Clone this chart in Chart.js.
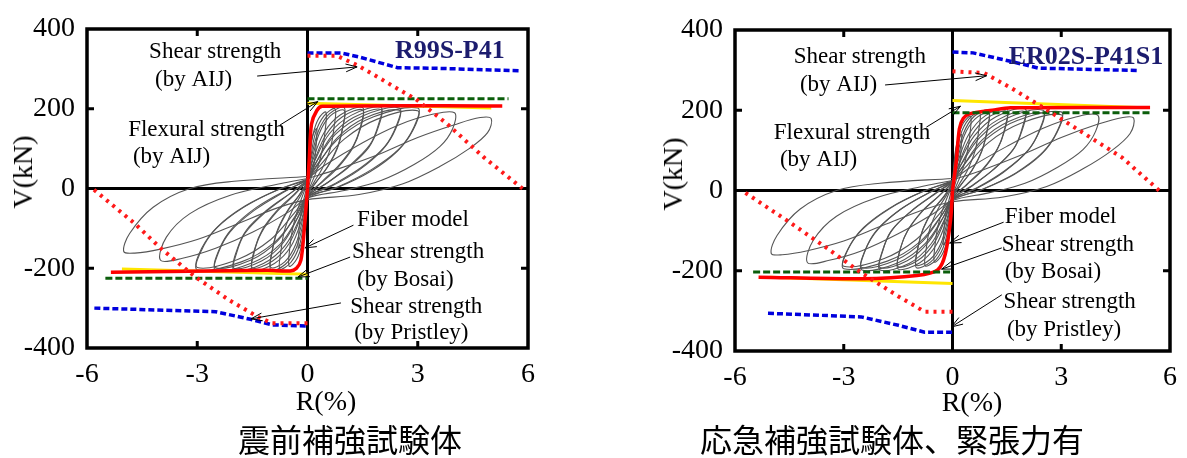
<!DOCTYPE html>
<html>
<head>
<meta charset="utf-8">
<script src="https://cdn.jsdelivr.net/npm/chart.js@4.4.1/dist/chart.umd.min.js"></script>
<style>
  body { margin: 0; background: #fff; width: 1187px; height: 458px; position: relative; overflow: hidden; }
  canvas { position: absolute; top: 0; }
  .t { position: absolute; font-family: "Liberation Serif", serif; font-size: 28px; line-height: 32px; color: #000; white-space: nowrap; transform: translate(-50%, -50%); }
  .rot { transform: translate(-50%, -50%) rotate(-90deg); }
  .cap { position: absolute; font-family: "Noto Sans CJK JP", sans-serif; font-size: 32px; line-height: 40px; color: #000; white-space: nowrap; transform: translate(-50%, -50%); }
</style>
</head>
<body>
<canvas id="left" width="600" height="458" style="left:0"></canvas>
<canvas id="right" width="587" height="458" style="left:600px"></canvas>
<div class="t rot" style="left:23px;top:172px">V(kN)</div>
<div class="t rot" style="left:673px;top:174px">V(kN)</div>
<div class="t" style="left:326px;top:401px">R(%)</div>
<div class="t" style="left:972px;top:402px">R(%)</div>
<div class="cap" style="left:350px;top:438px">震前補強試験体</div>
<div class="cap" style="left:892px;top:438px">応急補強試験体、緊張力有</div>
<script>
// axis ticks
const xTicks = [-6, -3, 0, 3, 6];
const yTicks = [-400, -200, 0, 200, 400];

// ---- left specimen (R99S-P41), pairs of R(%), V(kN) ----
const leftLoops = [
  [0,10, 0.03,60, 0.08,105, 0.15,135, 0.25,150, 0.24,115, 0.2,75, 0.12,35, 0,-10, -0.03,-60, -0.08,-105, -0.15,-135, -0.25,-150, -0.24,-115, -0.2,-75, -0.12,-35, 0,10],
  [0,15, 0.05,70, 0.15,135, 0.3,175, 0.5,192, 0.48,145, 0.4,95, 0.25,45, 0,-15, -0.05,-70, -0.15,-138, -0.3,-178, -0.5,-195, -0.48,-148, -0.4,-98, -0.25,-48, 0,15],
  [0,17, 0.08,73, 0.22,140, 0.45,182, 0.75,200, 0.72,152, 0.62,100, 0.4,50, 0.18,16, 0,-17, -0.08,-75, -0.22,-143, -0.45,-185, -0.75,-202, -0.72,-155, -0.62,-103, -0.4,-52, -0.18,-17, 0,17],
  [0,18, 0.1,75, 0.3,145, 0.6,188, 1.0,203, 0.96,155, 0.82,105, 0.55,55, 0.25,18, 0,-18, -0.1,-78, -0.3,-148, -0.6,-190, -1.0,-205, -0.96,-158, -0.82,-108, -0.55,-58, -0.25,-20, 0,18],
  [0,16, 0.12,70, 0.32,138, 0.62,182, 1.0,196, 0.95,148, 0.8,98, 0.52,50, 0.22,14, 0,-16, -0.12,-72, -0.32,-140, -0.62,-184, -1.0,-198, -0.95,-150, -0.8,-100, -0.52,-52, -0.22,-16, 0,16],
  [0,20, 0.15,72, 0.45,140, 0.9,185, 1.5,203, 1.45,158, 1.25,108, 0.85,58, 0.4,18, 0,-20, -0.15,-75, -0.45,-145, -0.9,-188, -1.5,-205, -1.45,-160, -1.25,-110, -0.85,-60, -0.4,-20, 0,20],
  [0,18, 0.18,68, 0.5,134, 0.95,180, 1.5,197, 1.44,150, 1.22,100, 0.82,52, 0.38,14, 0,-18, -0.18,-70, -0.5,-138, -0.95,-182, -1.5,-199, -1.44,-152, -1.22,-102, -0.82,-54, -0.38,-16, 0,18],
  [0,20, 0.2,70, 0.6,138, 1.2,184, 2.0,204, 1.93,160, 1.7,110, 1.15,58, 0.55,15, 0,-20, -0.2,-72, -0.6,-142, -1.2,-188, -2.0,-206, -1.93,-162, -1.7,-112, -1.15,-60, -0.55,-18, 0,20],
  [0,19, 0.24,66, 0.66,132, 1.25,178, 2.0,198, 1.92,152, 1.66,102, 1.1,52, 0.5,12, 0,-19, -0.24,-68, -0.66,-136, -1.25,-182, -2.0,-200, -1.92,-154, -1.66,-104, -1.1,-54, -0.5,-14, 0,19],
  [0,22, 0.25,68, 0.75,135, 1.5,182, 2.5,202, 2.42,158, 2.1,105, 1.45,52, 0.7,10, 0,-22, -0.25,-70, -0.75,-140, -1.5,-186, -2.5,-205, -2.42,-160, -2.1,-108, -1.45,-55, -0.7,-12, 0,22],
  [0,20, 0.3,62, 0.82,128, 1.55,176, 2.5,196, 2.4,150, 2.05,98, 1.4,46, 0.66,6, 0,-20, -0.3,-64, -0.82,-132, -1.55,-180, -2.5,-199, -2.4,-152, -2.05,-100, -1.4,-48, -0.66,-8, 0,20],
  [0,22, 0.3,65, 0.9,130, 1.8,180, 3.0,202, 2.9,155, 2.5,100, 1.75,48, 0.85,5, 0,-24, -0.3,-68, -0.9,-135, -1.8,-184, -3.0,-204, -2.9,-158, -2.5,-102, -1.75,-48, -0.85,-5, 0,24],
  [0,21, 0.36,60, 1.0,124, 1.9,174, 3.0,195, 2.88,148, 2.45,94, 1.7,42, 0.8,2, 0,-21, -0.36,-62, -1.0,-128, -1.9,-178, -3.0,-198, -2.88,-150, -2.45,-96, -1.7,-44, -0.8,-3, 0,21],
  [0,24, 0.5,60, 1.5,115, 2.5,160, 3.4,186, 4.0,190, 3.95,150, 3.6,105, 2.9,60, 2.0,20, 1.0,-5, 0,-24, -0.5,-58, -1.5,-110, -2.5,-150, -3.4,-175, -4.0,-180, -3.84,-122, -3.2,-63, -2.1,-17, -0.75,12, 0,25],
  [0,25, 0.8,48, 2.0,88, 3.0,128, 4.0,160, 4.7,178, 5.0,175, 4.9,140, 4.4,100, 3.6,55, 2.6,12, 1.4,-15, 0,-28, -0.8,-48, -2.0,-92, -3.0,-128, -4.0,-152, -4.7,-162, -5.0,-158, -4.84,-113, -4.2,-47, -3.2,0, -2.0,18, 0,30]
];
const leftFiberPos = [0,0, 0.05,78, 0.11,162, 0.25,195, 0.4,206, 5.3,207];
const leftFiberNeg = [0,0, -0.09,-105, -0.18,-180, -0.3,-200, -0.47,-207, -1.1,-205, -5.35,-210];
const leftFlexPos = [0,214, 5.0,202];
const leftFlexNeg = [-5.05,-202, 0,-215];
const leftBosaiPos = [0,225, 5.47,225];
const leftBosaiNeg = [-5.5,-225, 0,-225];
const leftAijPos = [0,333, 0.8,333, 1.4,307, 2.4,253, 2.95,224, 3.8,162, 4.8,78, 5.85,0];
const leftAijNeg = [0,-338, -0.96,-338, -1.35,-322, -2.13,-280, -3.05,-222, -3.98,-151, -4.7,-88, -5.85,0];
const leftPriestleyPos = [0,340, 0.9,340, 1.4,330, 2.45,303, 3.7,301, 5.8,295];
const leftPriestleyNeg = [-5.8,-300, -2.5,-309, -1.55,-328, -0.96,-342, 0,-345];

// ---- right specimen (ER02S-P41S1) ----
const rightLoops = [
  [0,10, 0.03,55, 0.08,98, 0.15,126, 0.25,140, 0.24,108, 0.2,70, 0.12,32, 0,-10, -0.03,-55, -0.08,-95, -0.15,-122, -0.25,-135, -0.24,-104, -0.2,-68, -0.12,-32, 0,10],
  [0,15, 0.05,68, 0.15,130, 0.3,168, 0.5,185, 0.48,140, 0.4,92, 0.25,44, 0,-15, -0.05,-65, -0.15,-125, -0.3,-162, -0.5,-178, -0.48,-135, -0.4,-88, -0.25,-42, 0,15],
  [0,17, 0.08,72, 0.22,138, 0.45,178, 0.75,195, 0.72,148, 0.62,98, 0.4,48, 0.18,15, 0,-17, -0.08,-70, -0.22,-133, -0.45,-172, -0.75,-188, -0.72,-142, -0.62,-94, -0.4,-46, -0.18,-14, 0,17],
  [0,18, 0.1,74, 0.3,142, 0.6,185, 1.0,200, 0.96,152, 0.82,102, 0.55,52, 0.25,16, 0,-18, -0.1,-72, -0.3,-138, -0.6,-178, -1.0,-192, -0.96,-146, -0.82,-98, -0.55,-50, -0.25,-16, 0,18],
  [0,16, 0.12,68, 0.32,136, 0.62,178, 1.0,193, 0.95,146, 0.8,96, 0.52,48, 0.22,13, 0,-16, -0.12,-68, -0.32,-132, -0.62,-172, -1.0,-186, -0.95,-140, -0.8,-93, -0.52,-47, -0.22,-14, 0,16],
  [0,20, 0.15,72, 0.45,140, 0.9,186, 1.5,204, 1.45,158, 1.25,106, 0.85,55, 0.4,16, 0,-20, -0.15,-70, -0.45,-136, -0.9,-180, -1.5,-196, -1.45,-150, -1.25,-102, -0.85,-53, -0.4,-16, 0,20],
  [0,18, 0.18,68, 0.5,134, 0.95,180, 1.5,197, 1.44,150, 1.22,100, 0.82,50, 0.38,13, 0,-18, -0.18,-66, -0.5,-130, -0.95,-174, -1.5,-190, -1.44,-145, -1.22,-97, -0.82,-50, -0.38,-14, 0,18],
  [0,22, 0.2,70, 0.6,136, 1.2,184, 2.0,204, 1.93,158, 1.7,106, 1.15,54, 0.55,12, 0,-22, -0.2,-68, -0.6,-134, -1.2,-182, -2.0,-198, -1.93,-152, -1.7,-102, -1.15,-52, -0.55,-12, 0,22],
  [0,20, 0.24,66, 0.66,130, 1.25,176, 2.0,197, 1.92,150, 1.66,100, 1.1,50, 0.5,10, 0,-20, -0.24,-64, -0.66,-128, -1.25,-175, -2.0,-192, -1.92,-147, -1.66,-98, -1.1,-49, -0.5,-10, 0,20],
  [0,23, 0.25,66, 0.75,132, 1.5,180, 2.5,200, 2.42,155, 2.1,102, 1.45,50, 0.7,8, 0,-23, -0.25,-66, -0.75,-132, -1.5,-180, -2.5,-198, -2.42,-152, -2.1,-100, -1.45,-48, -0.7,-8, 0,23],
  [0,21, 0.3,62, 0.82,126, 1.55,172, 2.5,193, 2.4,148, 2.05,96, 1.4,45, 0.66,5, 0,-21, -0.3,-62, -0.82,-126, -1.55,-173, -2.5,-192, -2.4,-147, -2.05,-96, -1.4,-45, -0.66,-6, 0,21],
  [0,24, 0.3,62, 0.9,126, 1.8,175, 3.0,196, 2.9,150, 2.5,96, 1.75,44, 0.85,4, 0,-24, -0.3,-62, -0.9,-128, -1.8,-176, -3.0,-195, -2.9,-150, -2.5,-98, -1.75,-46, -0.85,-4, 0,24],
  [0,22, 0.36,58, 1.0,120, 1.9,168, 3.0,189, 2.88,144, 2.45,90, 1.7,40, 0.8,2, 0,-22, -0.36,-58, -1.0,-122, -1.9,-170, -3.0,-189, -2.88,-145, -2.45,-92, -1.7,-42, -0.8,-2, 0,22],
  [0,25, 0.5,58, 1.5,110, 2.5,155, 3.4,183, 4.0,188, 3.95,148, 3.6,102, 2.9,58, 2.0,18, 1.0,-6, 0,-25, -0.5,-56, -1.5,-108, -2.5,-150, -3.4,-174, -4.0,-180, -3.84,-124, -3.2,-64, -2.1,-18, -0.75,12, 0,25],
  [0,26, 0.8,50, 2.0,92, 3.0,132, 4.0,165, 4.7,182, 5.0,180, 4.9,142, 4.4,100, 3.6,54, 2.6,10, 1.4,-16, 0,-28, -0.8,-48, -2.0,-90, -3.0,-126, -4.0,-150, -4.7,-160, -5.0,-157, -4.84,-112, -4.2,-46, -3.2,0, -2.0,18, 0,30]
];
const rightFiberPos = [0,0, 0.1,69, 0.19,154, 0.3,180, 0.47,191, 1.1,200, 1.6,206, 5.45,207];
const rightFiberNeg = [0,0, -0.05,-70, -0.2,-159, -0.41,-198, -0.98,-212, -2.5,-220, -5.35,-216];
const rightFlexPos = [0,224, 5.1,207];
const rightFlexNeg = [-5.04,-216, 0,-232];
const rightBosaiPos = [0,194, 5.5,194];
const rightBosaiNeg = [-5.5,-203, 0,-203];
const rightAijPos = [0,297, 0.87,293, 1.7,251, 2.62,200, 3.65,141, 4.68,82, 5.7,0];
const rightAijNeg = [0,-302, -0.77,-302, -1.49,-264, -2.52,-205, -3.55,-138, -4.58,-74, -5.81,0];
const rightPriestleyPos = [0,345, 0.57,343, 1.6,322, 2.37,305, 5.15,299];
const rightPriestleyNeg = [-5.09,-306, -2.52,-315, -1.49,-336, -0.77,-353, 0,-353];

// pairs -> points
const pts = a => {
  const out = [];
  for (let i = 0; i < a.length; i += 2) out.push({x: a[i], y: a[i + 1]});
  return out;
};

function line(data, color, width, dash, tension) {
  return {
    data: pts(data), showLine: true, borderColor: color, borderWidth: width,
    borderDash: dash || [], tension: tension || 0, pointRadius: 0, fill: false
  };
}

function buildSets(s) {
  const sets = [
    line(s.aijPos, '#ff1a1a', 4, [3, 5]),
    line(s.aijNeg, '#ff1a1a', 4, [3, 5]),
    line(s.priPos, '#0000dd', 3.5, [6, 3]),
    line(s.priNeg, '#0000dd', 3.5, [6, 3]),
    line(s.bosPos, '#0b5e0b', 3, [7, 3]),
    line(s.bosNeg, '#0b5e0b', 3, [7, 3]),
    line(s.fibPos, '#ff0000', 3.5, null, 0.3),
    line(s.fibNeg, '#ff0000', 3.5, null, 0.3),
    line(s.flexPos, '#ffe600', 3),
    line(s.flexNeg, '#ffe600', 3)
  ];
  s.loops.forEach(l => sets.push(line(l, '#555555', 1.1, null, 0.35)));
  return sets;
}

// frame, inward ticks, zero lines
const framePlugin = {
  id: 'frame',
  beforeDatasetsDraw(chart) {
    const {ctx, chartArea: a, scales: {x, y}} = chart;
    ctx.save();
    ctx.strokeStyle = '#000';
    ctx.lineWidth = 3;
    ctx.beginPath();
    ctx.moveTo(x.getPixelForValue(0), a.top); ctx.lineTo(x.getPixelForValue(0), a.bottom);
    ctx.moveTo(a.left, y.getPixelForValue(0)); ctx.lineTo(a.right, y.getPixelForValue(0));
    ctx.stroke();
    ctx.restore();
  },
  afterDatasetsDraw(chart) {
    const {ctx, chartArea: a, scales: {x, y}} = chart;
    ctx.save();
    ctx.strokeStyle = '#000';
    ctx.lineWidth = 3;
    ctx.beginPath();
    x.ticks.forEach(t => {
      if (t.value === 0 || Math.abs(t.value) === 6) return;
      const px = x.getPixelForValue(t.value);
      ctx.moveTo(px, a.top); ctx.lineTo(px, a.top + 7);
      ctx.moveTo(px, a.bottom); ctx.lineTo(px, a.bottom - 7);
    });
    y.ticks.forEach(t => {
      if (t.value === 0 || Math.abs(t.value) === 400) return;
      const py = y.getPixelForValue(t.value);
      ctx.moveTo(a.left, py); ctx.lineTo(a.left + 7, py);
      ctx.moveTo(a.right, py); ctx.lineTo(a.right - 7, py);
    });
    ctx.stroke();
    ctx.lineWidth = 3.5;
    ctx.strokeRect(a.left, a.top, a.right - a.left, a.bottom - a.top);
    ctx.restore();
  }
};

// text labels and arrows, placed in data units
const notesPlugin = {
  id: 'notes',
  afterDraw(chart, args, opts) {
    const {ctx, scales: {x, y}} = chart;
    ctx.save();
    ctx.textBaseline = 'middle';
    ctx.textAlign = 'left';
    ctx.fillStyle = '#000';
    ctx.font = '23px "Liberation Serif"';
    opts.texts.forEach(([s, r, v]) => ctx.fillText(s, x.getPixelForValue(r), y.getPixelForValue(v)));
    ctx.strokeStyle = '#000';
    ctx.lineWidth = 1;
    opts.arrows.forEach(([r1, v1, r2, v2]) => {
      const x1 = x.getPixelForValue(r1), y1 = y.getPixelForValue(v1);
      const x2 = x.getPixelForValue(r2), y2 = y.getPixelForValue(v2);
      const ang = Math.atan2(y2 - y1, x2 - x1), h = 12;
      ctx.beginPath();
      ctx.moveTo(x1, y1); ctx.lineTo(x2, y2);
      ctx.moveTo(x2 - h * Math.cos(ang - 0.33), y2 - h * Math.sin(ang - 0.33));
      ctx.lineTo(x2, y2);
      ctx.lineTo(x2 - h * Math.cos(ang + 0.33), y2 - h * Math.sin(ang + 0.33));
      ctx.stroke();
    });
    ctx.font = 'bold 26px "Liberation Serif"';
    ctx.fillStyle = '#1c1c6e';
    ctx.fillText(opts.title[0], x.getPixelForValue(opts.title[1]), y.getPixelForValue(opts.title[2]));
    ctx.restore();
  }
};

function makeChart(id, sets, yWidth, pad, notes) {
  const tickFont = {family: 'Liberation Serif', size: 28};
  return new Chart(document.getElementById(id), {
    type: 'scatter',
    data: {datasets: sets},
    options: {
      responsive: false,
      animation: false,
      devicePixelRatio: 1,
      layout: {padding: pad},
      plugins: {legend: {display: false}, tooltip: {enabled: false}, notes: notes},
      scales: {
        x: {
          min: -6, max: 6,
          afterBuildTicks: s => { s.ticks = xTicks.map(v => ({value: v})); },
          afterFit: s => { s.height = 60; },
          grid: {display: false, drawTicks: false},
          border: {display: false},
          ticks: {color: '#000', font: tickFont, padding: 10, maxRotation: 0}
        },
        y: {
          min: -400, max: 400,
          afterBuildTicks: s => { s.ticks = yTicks.map(v => ({value: v})); },
          afterFit: s => { s.width = yWidth; },
          grid: {display: false, drawTicks: false},
          border: {display: false},
          ticks: {color: '#000', font: tickFont, padding: 12}
        }
      }
    },
    plugins: [framePlugin, notesPlugin]
  });
}

makeChart('left', buildSets({
  loops: leftLoops, fibPos: leftFiberPos, fibNeg: leftFiberNeg, flexPos: leftFlexPos, flexNeg: leftFlexNeg,
  bosPos: leftBosaiPos, bosNeg: leftBosaiNeg, aijPos: leftAijPos, aijNeg: leftAijNeg,
  priPos: leftPriestleyPos, priNeg: leftPriestleyNeg
}), 87, {left: 0, top: 29, right: 72, bottom: 50}, {
  texts: [
    ['Shear strength', -4.31, 342], ['(by AIJ)', -4.15, 272],
    ['Flexural strength', -4.88, 147], ['(by AIJ)', -4.75, 79],
    ['Fiber model', 1.35, -79], ['Shear strength', 1.21, -159], ['(by Bosai)', 1.35, -229],
    ['Shear strength', 1.16, -297], ['(by Pristley)', 1.27, -362]
  ],
  arrows: [[-1.37, 282, 1.35, 305], [-0.75, 159, 0.28, 218], [1.25, -92, -0.07, -149],
           [1.16, -172, -0.26, -222], [0.91, -287, -1.54, -327]],
  title: ['R99S-P41', 2.38, 345]
});

makeChart('right', buildSets({
  loops: rightLoops, fibPos: rightFiberPos, fibNeg: rightFiberNeg, flexPos: rightFlexPos, flexNeg: rightFlexNeg,
  bosPos: rightBosaiPos, bosNeg: rightBosaiNeg, aijPos: rightAijPos, aijNeg: rightAijNeg,
  priPos: rightPriestleyPos, priNeg: rightPriestleyNeg
}), 135, {left: 0, top: 30, right: 17, bottom: 47}, {
  texts: [
    ['Shear strength', -4.38, 333], ['(by AIJ)', -4.21, 263],
    ['Flexural strength', -4.93, 143], ['(by AIJ)', -4.76, 76],
    ['Fiber model', 1.44, -66], ['Shear strength', 1.36, -136], ['(by Bosai)', 1.44, -203],
    ['Shear strength', 1.41, -278], ['(by Pristley)', 1.5, -348]
  ],
  arrows: [[-1.86, 263, 0.94, 286], [-0.72, 158, 0.22, 210], [1.41, -79, -0.08, -131],
           [1.36, -143, -0.3, -196], [1.36, -260, -0.03, -340]],
  title: ['ER02S-P41S1', 1.55, 333]
});
</script>
</body>
</html>
